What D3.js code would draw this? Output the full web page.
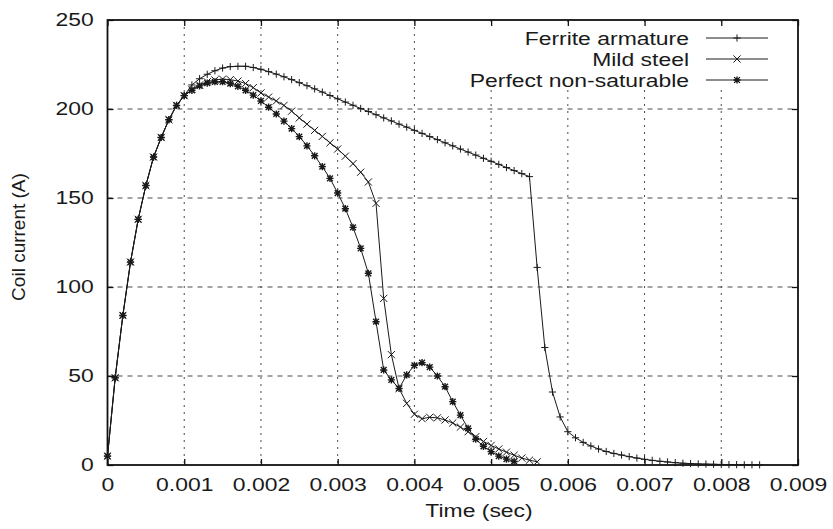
<!DOCTYPE html>
<html>
<head>
<meta charset="utf-8">
<script src="https://d3js.org/d3.v7.min.js"></script>
<style>
  body { margin: 0; background: #fff; }
  text { font-family: "Liberation Sans", Arial, sans-serif; fill: #1a1a1a; }
</style>
</head>
<body>
<script>
// sample times (sec), one every 0.1 ms
let time = [0, 0.0001, 0.0002, 0.0003, 0.0004, 0.0005, 0.0006, 0.0007, 0.0008, 0.0009,
    0.0010, 0.0011, 0.0012, 0.0013, 0.0014, 0.0015, 0.0016, 0.0017, 0.0018, 0.0019,
    0.0020, 0.0021, 0.0022, 0.0023, 0.0024, 0.0025, 0.0026, 0.0027, 0.0028, 0.0029,
    0.0030, 0.0031, 0.0032, 0.0033, 0.0034, 0.0035, 0.0036, 0.0037, 0.0038, 0.0039,
    0.0040, 0.0041, 0.0042, 0.0043, 0.0044, 0.0045, 0.0046, 0.0047, 0.0048, 0.0049,
    0.0050, 0.0051, 0.0052, 0.0053, 0.0054, 0.0055, 0.0056, 0.0057, 0.0058, 0.0059,
    0.0060, 0.0061, 0.0062, 0.0063, 0.0064, 0.0065, 0.0066, 0.0067, 0.0068, 0.0069,
    0.0070, 0.0071, 0.0072, 0.0073, 0.0074, 0.0075, 0.0076, 0.0077, 0.0078, 0.0079,
    0.0080, 0.0081, 0.0082, 0.0083, 0.0084, 0.0085];

// coil current (A)
let ferrite = [5, 49, 84, 114, 138, 157, 173, 184, 194, 202,
    207.5, 213.5, 217, 219.5, 221.5, 223, 223.8, 224, 224, 223.3,
    222.3, 221, 219.6, 218.1, 216.5, 214.8, 213.1, 211.3, 209.5, 207.6,
    205.7, 203.9, 202.1, 200.3, 198.6, 196.8, 195, 193.3, 191.5, 189.8,
    188, 186.3, 184.5, 182.8, 181, 179.3, 177.5, 175.8, 174.1, 172.3,
    170.6, 168.9, 167.1, 165.4, 163.7, 162, 111, 66, 41, 27,
    18.7, 15.3, 12.7, 10.7, 9, 7.6, 6.5, 5.6, 4.7, 3.9,
    3.2, 2.6, 2.1, 1.7, 1.3, 1.0, 0.8, 0.6, 0.5, 0.4,
    0.3, 0.2, 0.2, 0.1, 0.1, 0.1];

let mildSteel = [5, 49, 84, 114, 138, 157, 173, 184, 194, 202,
    207.5, 211, 213.5, 215.3, 216.3, 216.8, 216.5, 215.7, 214.3, 212,
    209, 206.7, 204.5, 202, 198.8, 195, 191.5, 188, 184.6, 181,
    177.5, 173.5, 169.3, 164.5, 159, 147, 93.6, 62, 43, 34.6,
    28.5, 26, 26.8, 26.5, 25.3, 23.6, 21.3, 18.7, 15.9, 13.2,
    11, 9, 7.2, 5.5, 3.9, 2.7, 1.8];

let perfect = [5, 49, 84, 114, 138, 157, 173, 184, 194, 202,
    207.5, 210.5, 213, 214.5, 215.3, 215.3, 214.3, 212.7, 210.5, 207.8,
    204.5, 201, 197.2, 193.2, 189, 184.5, 179.3, 173.7, 167.6, 161,
    152.8, 144, 133.5, 121.7, 107.7, 80.5, 53.4, 47.8, 43, 50.6,
    56, 57.5, 55, 50, 44, 35.6, 28, 20.6, 14.5, 10.5,
    7.5, 5, 3.3, 2];

let seriesNames = ["Ferrite armature", "Mild steel", "Perfect non-saturable"];
let xTicks = [0, 0.001, 0.002, 0.003, 0.004, 0.005, 0.006, 0.007, 0.008, 0.009];
let yTicks = [0, 50, 100, 150, 200, 250];

function draw() {
    let width = 833,
        height = 529;
    let left = 107.5, right = 798, top = 20, bottom = 465;
    let stretch = 1.24;   // the original text is a bit wider than Arial

    let svg = d3.select("body").append("svg")
        .attr("width", width)
        .attr("height", height);

    let x = d3.scaleLinear().domain([0, 0.009]).range([left, right]);
    let y = d3.scaleLinear().domain([0, 250]).range([bottom, top]);

    // grid
    svg.append("g")
        .selectAll("line")
        .data(yTicks.slice(1, -1))
        .join("line")
            .attr("x1", left).attr("x2", right)
            .attr("y1", d => y(d)).attr("y2", d => y(d))
            .attr("stroke", "#4a4a4a")
            .attr("stroke-dasharray", "5,5");
    svg.append("g")
        .selectAll("line")
        .data(xTicks.slice(1, -1))
        .join("line")
            .attr("x1", d => x(d)).attr("x2", d => x(d))
            .attr("y1", top).attr("y2", bottom)
            .attr("stroke", "#4a4a4a")
            .attr("stroke-dasharray", "2,5");

    // key sits on a blank box
    svg.append("rect")
        .attr("x", 456).attr("y", top + 6)
        .attr("width", right - 456 - 2).attr("height", 64)
        .attr("fill", "#fff");

    // axes with inward ticks
    let fmt = d => d === 0 ? "0" : d.toFixed(3);
    let bottomAxis = svg.append("g")
        .attr("transform", `translate(0,${bottom})`)
        .call(d3.axisBottom(x).tickValues(xTicks).tickSize(-6).tickPadding(13).tickFormat(fmt));
    let leftAxis = svg.append("g")
        .attr("transform", `translate(${left},0)`)
        .call(d3.axisLeft(y).tickValues(yTicks).tickSize(-6).tickPadding(11));
    let topAxis = svg.append("g")
        .attr("transform", `translate(0,${top})`)
        .call(d3.axisTop(x).tickValues(xTicks).tickSize(-6).tickFormat(""));
    let rightAxis = svg.append("g")
        .attr("transform", `translate(${right},0)`)
        .call(d3.axisRight(y).tickValues(yTicks).tickSize(-6).tickFormat(""));

    [bottomAxis, leftAxis, topAxis, rightAxis].forEach(a => {
        a.attr("font-size", null).attr("font-family", null);
        a.select(".domain").remove();
        a.selectAll(".tick line").attr("stroke", "#111").attr("stroke-width", 1.3);
        a.selectAll("text")
            .attr("font-size", "18.5px")
            .attr("fill", "#1a1a1a")
            .attr("transform", `scale(${stretch},1)`);
    });

    svg.append("rect")
        .attr("x", left).attr("y", top)
        .attr("width", right - left).attr("height", bottom - top)
        .attr("fill", "none")
        .attr("stroke", "#111")
        .attr("stroke-width", 1.8);

    // axis titles
    svg.append("text")
        .attr("transform", `translate(479,517) scale(${stretch},1)`)
        .attr("text-anchor", "middle")
        .attr("font-size", "18.5px")
        .text("Time (sec)");
    svg.append("text")
        .attr("transform", "translate(25,237) rotate(-90)")
        .attr("text-anchor", "middle")
        .attr("font-size", "19px")
        .text("Coil current (A)");

    // series
    let plus = s => `M${-s},0H${s}M0,${-s}V${s}`;
    let cross = s => `M${-s},${-s}L${s},${s}M${-s},${s}L${s},${-s}`;
    let star = s => plus(s) + cross(s * 0.8);
    let series = [
        {name: seriesNames[0], values: ferrite, shape: plus, w: 1},
        {name: seriesNames[1], values: mildSteel, shape: cross, w: 1},
        {name: seriesNames[2], values: perfect, shape: star, w: 1.4}
    ];

    let line = d3.line()
        .x((d, i) => x(time[i]))
        .y(d => y(d));

    series.forEach((s, k) => {
        let g = svg.append("g").attr("class", "series");
        g.append("path")
            .attr("d", line(s.values))
            .attr("fill", "none")
            .attr("stroke", "#1a1a1a")
            .attr("stroke-width", 1);
        g.selectAll("path.pt")
            .data(s.values)
            .join("path")
                .attr("class", "pt")
                .attr("transform", (d, i) => `translate(${x(time[i])},${y(d)})`)
                .attr("d", s.shape(3.6))
                .attr("fill", "none")
                .attr("stroke", "#1a1a1a")
                .attr("stroke-width", s.w);

        // key entry
        let ky = 38 + 21 * k;
        svg.append("text")
            .attr("transform", `translate(689,${ky + 6.5}) scale(${stretch},1)`)
            .attr("text-anchor", "end")
            .attr("font-size", "18.5px")
            .text(s.name);
        svg.append("line")
            .attr("x1", 706).attr("x2", 768)
            .attr("y1", ky).attr("y2", ky)
            .attr("stroke", "#1a1a1a");
        svg.append("path")
            .attr("transform", `translate(737,${ky})`)
            .attr("d", s.shape(3.6))
            .attr("fill", "none")
            .attr("stroke", "#1a1a1a")
            .attr("stroke-width", s.w);
    });
}

draw();
</script>
</body>
</html>
